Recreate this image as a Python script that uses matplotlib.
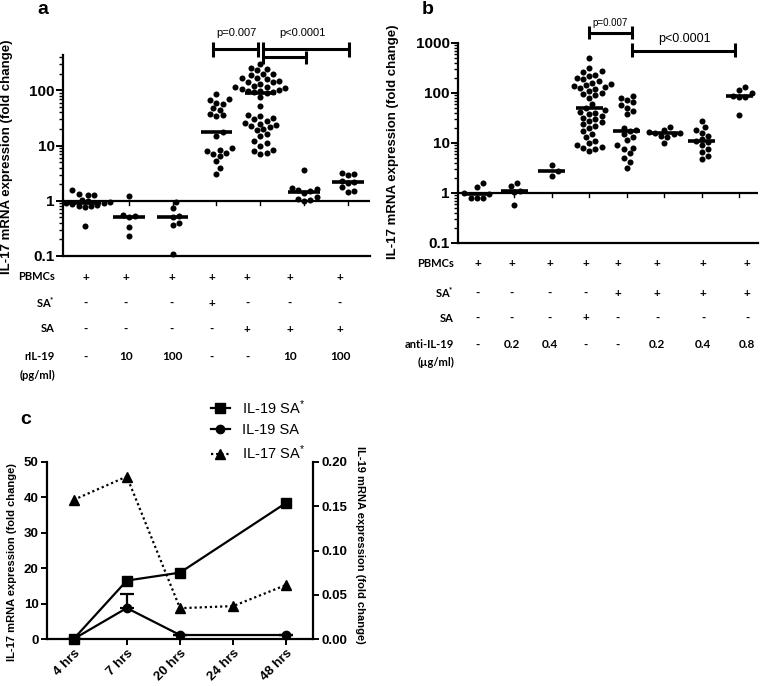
import numpy as np
import matplotlib
matplotlib.use("Agg")
import matplotlib.pyplot as plt
from matplotlib.ticker import FixedLocator, FixedFormatter, LogLocator, NullFormatter

plt.rcParams['font.family'] = ['Liberation Sans', 'DejaVu Sans']
plt.rcParams['mathtext.default'] = 'regular'

# ---------------- data: panel a ----------------
a_pbmc = [1.6, 1.35, 1.3, 1.3, 1.05, 1.0, 0.95, 0.92, 0.9, 0.88, 0.85, 0.82, 0.8, 0.78, 0.35]
a_ril19_10 = [1.2, 0.55, 0.52, 0.5, 0.34, 0.23]
a_ril19_100 = [0.95, 0.75, 0.52, 0.5, 0.4, 0.36, 0.11]
a_sa_star = [85, 70, 68, 60, 58, 48, 45, 38, 36, 35, 18, 15, 9, 8.5, 8, 7.5, 7, 6.5, 5.2, 4, 3.1]
a_sa = [300, 260, 250, 240, 200, 195, 190, 170, 165, 160, 150, 145, 140, 130, 120, 118, 115,
        110, 105, 100, 98, 96, 95, 92, 90, 75, 52, 36, 34, 32, 30, 28, 26, 25, 24, 23, 22, 20,
        19, 16, 15, 12, 11, 10, 8.5, 8, 7.5, 7.2]
a_sa_ril19_10 = [3.6, 1.7, 1.65, 1.6, 1.5, 1.4, 1.15, 1.1, 1.05, 1.0]
a_sa_ril19_100 = [3.2, 3.1, 2.9, 2.3, 2.2, 2.1, 1.75, 1.5, 1.45]
a_groups = [a_pbmc, a_ril19_10, a_ril19_100, a_sa_star, a_sa, a_sa_ril19_10, a_sa_ril19_100]

a_row_labels = ["PBMCs", "SA$^{*}$", "SA", "rIL-19"]
a_pbmcs_row = ["+", "+", "+", "+", "+", "+", "+"]
a_sastar_row = ["-", "-", "-", "+", "-", "-", "-"]
a_sa_row = ["-", "-", "-", "-", "+", "+", "+"]
a_ril19_row = ["-", "10", "100", "-", "-", "10", "100"]

# ---------------- data: panel b ----------------
b_pbmc = [1.55, 1.3, 1.0, 0.95, 0.8, 0.78, 0.8]
b_anti02 = [1.55, 1.35, 1.1, 1.05, 0.58]
b_anti04 = [3.7, 2.8, 2.2]
b_sa = [510, 310, 270, 260, 230, 220, 200, 190, 170, 160, 150, 145, 140, 130, 125, 120, 110,
        100, 95, 90, 80, 60, 50, 45, 42, 40, 38, 35, 32, 30, 28, 26, 24, 22, 20, 17, 15, 13,
        11, 10, 9, 8.5, 8, 7.5, 7]
b_sa_star = [88, 80, 72, 65, 57, 51, 44, 38, 20, 18, 17, 15, 13, 11.5, 9, 8, 7.5, 6.2, 4.9, 4.1, 3.2]
b_sastar_anti02 = [21, 18, 16.5, 16, 15.5, 15, 14, 13, 10]
b_sastar_anti04 = [27, 21, 18, 16, 14, 12, 11, 10.5, 9, 7.5, 6.5, 5.5, 4.7]
b_sastar_anti08 = [132, 115, 100, 88, 84, 82, 37]
b_groups = [b_pbmc, b_anti02, b_anti04, b_sa, b_sa_star, b_sastar_anti02, b_sastar_anti04, b_sastar_anti08]

b_row_labels = ["PBMCs", "SA$^{*}$", "SA", "anti-IL-19"]
b_pbmcs_row = ["+"] * 8
b_sastar_row = ["-", "-", "-", "-", "+", "+", "+", "+"]
b_sa_row = ["-", "-", "-", "+", "-", "-", "-", "-"]
b_anti_row = ["-", "0.2", "0.4", "-", "-", "0.2", "0.4", "0.8"]

# ---------------- data: panel c ----------------
c_times = ["4 hrs", "7 hrs", "20 hrs", "24 hrs", "48 hrs"]
c_il19_sa_star = [0.0, 0.066, 0.075, np.nan, 0.154]
c_il19_sa = [0.0, 0.035, 0.0045, np.nan, 0.0045]
c_il19_sa_err = [0.0, 0.016, 0.0, np.nan, 0.0]
c_il17_sa_star = [39.3, 45.9, 8.7, 9.3, 15.3]

W, H = 760, 686
fig = plt.figure(figsize=(W / 100, H / 100), dpi=100)


def fx(px):
    return px / W


def fy(py):
    return 1 - py / H


def swarm(vals, ppd, ppu, d=6.2):
    vals = np.asarray(vals, float)
    ys = ppd * np.log10(vals)
    order = np.argsort(vals)
    placed = []
    offs = np.zeros(len(vals))
    for i in order:
        y = ys[i]
        cand = 0.0
        for k in range(0, 60):
            cand = ((k + 1) // 2) * (d / 2) * (1 if k % 2 == 1 else -1)
            if all((cand - px) ** 2 + (y - py) ** 2 >= d * d for px, py in placed):
                break
        placed.append((cand, y))
        offs[i] = cand
    return offs / ppu


def style_log_axis(ax, ymin, ymax, majors, labels):
    ax.set_yscale('log')
    ax.set_ylim(ymin, ymax)
    for s in ['top', 'right']:
        ax.spines[s].set_visible(False)
    for s in ['left', 'bottom']:
        ax.spines[s].set_linewidth(1.6)
    ax.set_xticks([])
    ax.yaxis.set_major_locator(FixedLocator(majors))
    ax.yaxis.set_major_formatter(FixedFormatter(labels))
    ax.yaxis.set_minor_locator(LogLocator(base=10, subs=np.arange(2, 10)))
    ax.yaxis.set_minor_formatter(NullFormatter())
    ax.tick_params(axis='y', which='major', length=5, width=1.4, labelsize=11, pad=1)
    ax.tick_params(axis='y', which='minor', length=3, width=1.0)
    for t in ax.get_yticklabels():
        t.set_fontweight('bold')
    ax.axhline(1, color='black', lw=1.6, zorder=2)
    ax.patch.set_alpha(0)


def draw_groups(ax, groups, ppd, ppu, tick_frac):
    for i, g in enumerate(groups):
        offs = swarm(g, ppd, ppu)
        ax.scatter(i + offs, g, s=19, color='black', zorder=3, linewidths=0, clip_on=False)
        med = np.median(g)
        ax.plot([i - 0.36, i + 0.36], [med, med], color='black', lw=2.6, zorder=4,
                solid_capstyle='butt')
        ax.plot([i, i], [1, 10 ** (-tick_frac)], color='black', lw=1.0, zorder=2)


def bracket(ax, x0, x1, y, c0, c1, c2, c3):
    tr = ax.get_xaxis_transform()
    kw = dict(color='black', lw=2.2, transform=tr, clip_on=False, solid_capstyle='butt')
    ax.plot([x0, x1], [y, y], **kw)
    ax.plot([x0, x0], [c0, c1], **kw)
    ax.plot([x1, x1], [c2, c3], **kw)


# ================= panel a =================
a_left, a_right, a_top, a_bot = 63, 370, 55, 256
ax_a = fig.add_axes([fx(a_left), fy(a_bot), fx(a_right - a_left), (a_bot - a_top) / H])
style_log_axis(ax_a, 0.1, 440, [0.1, 1, 10, 100], ["0.1", "1", "10", "100"])
ax_a.set_xlim(-0.5, 6.5)
draw_groups(ax_a, a_groups, 55.5, 43.7, 4 / 55.5)


def af(py):
    return (a_bot - py) / (a_bot - a_top)


bracket(ax_a, 2.93, 3.95, af(49), af(42), af(57), af(42), af(57))
bracket(ax_a, 4.07, 6.02, af(49), af(42), af(64), af(42), af(57))
bracket(ax_a, 4.07, 5.03, af(57), af(57), af(57), af(51), af(64))
ax_a.text(3.45, af(33), "p=0.007", transform=ax_a.get_xaxis_transform(), ha='center',
          va='center', fontsize=8)
ax_a.text(4.95, af(33), "p<0.0001", transform=ax_a.get_xaxis_transform(), ha='center',
          va='center', fontsize=8)

fig.text(fx(43), fy(9), "a", fontsize=14, fontweight='bold', ha='center', va='center')
fig.text(fx(7), fy(157), "IL-17 mRNA expression (fold change)", rotation=90, ha='center',
         va='center', fontsize=9.5, fontweight='bold')

# table a
a_cols_px = [86, 126, 172, 212, 247, 290, 340]
a_rows_py = [277, 303, 329, 357]
tbl_font = ['Lato', 'DejaVu Sans']
for lab, py in zip(a_row_labels, a_rows_py):
    fig.text(fx(55), fy(py), lab, ha='right', va='center', fontsize=8, fontweight='bold',
             family=tbl_font)
fig.text(fx(55), fy(375), "(pg/ml)", ha='right', va='center', fontsize=8, fontweight='bold',
         family=tbl_font)
for row, py in zip([a_pbmcs_row, a_sastar_row, a_sa_row, a_ril19_row], a_rows_py):
    for s, px in zip(row, a_cols_px):
        fig.text(fx(px), fy(py), s, ha='center', va='center', fontsize=8.5,
                 fontweight='bold', family=tbl_font)

# ================= panel b =================
b_left, b_right, b_top, b_bot = 458, 758, 43, 243
ax_b = fig.add_axes([fx(b_left), fy(b_bot), fx(b_right - b_left), (b_bot - b_top) / H])
style_log_axis(ax_b, 0.1, 1000, [0.1, 1, 10, 100, 1000], ["0.1", "1", "10", "100", "1000"])
ax_b.set_xlim(-0.5, 7.5)
draw_groups(ax_b, b_groups, 50.0, 37.5, 4 / 50.0)


def bf(py):
    return (b_bot - py) / (b_bot - b_top)


bracket(ax_b, 3.0, 4.13, bf(33), bf(26), bf(39), bf(26), bf(39))
bracket(ax_b, 4.13, 6.88, bf(51), bf(43), bf(57), bf(43), bf(57))
ax_b.text(3.55, bf(23), "p=0.007", transform=ax_b.get_xaxis_transform(), ha='center',
          va='center', fontsize=7)
ax_b.text(5.55, bf(39), "p<0.0001", transform=ax_b.get_xaxis_transform(), ha='center',
          va='center', fontsize=9)

fig.text(fx(428), fy(9), "b", fontsize=14, fontweight='bold', ha='center', va='center')
fig.text(fx(393), fy(142), "IL-17 mRNA expression (fold change)", rotation=90, ha='center',
         va='center', fontsize=9.5, fontweight='bold')

b_cols_px = [478, 512, 550, 586, 618, 657, 703, 747]
b_rows_py = [263, 293, 318, 345]
for lab, py in zip(b_row_labels, b_rows_py):
    fig.text(fx(454), fy(py), lab, ha='right', va='center', fontsize=8, fontweight='bold',
             family=tbl_font)
fig.text(fx(454), fy(362), "(µg/ml)", ha='right', va='center', fontsize=8, fontweight='bold',
         family=tbl_font)
for row, py in zip([b_pbmcs_row, b_sastar_row, b_sa_row, b_anti_row], b_rows_py):
    for s, px in zip(row, b_cols_px):
        fig.text(fx(px), fy(py), s, ha='center', va='center', fontsize=8.5,
                 fontweight='bold', family=tbl_font)

# ================= panel c =================
c_left, c_right, c_top, c_bot = 47, 313, 462, 639
ax_c = fig.add_axes([fx(c_left), fy(c_bot), fx(c_right - c_left), (c_bot - c_top) / H])
ax_c2 = ax_c.twinx()
x = np.arange(len(c_times))
ax_c.set_xlim(-0.5, 4.5)
ax_c.set_ylim(0, 50)
ax_c2.set_ylim(0, 0.2)
ax_c.set_yticks([0, 10, 20, 30, 40, 50])
ax_c2.set_yticks([0, 0.05, 0.10, 0.15, 0.20])
ax_c2.set_yticklabels(["0.00", "0.05", "0.10", "0.15", "0.20"])
ax_c.set_xticks(x)
ax_c.set_xticklabels(c_times, rotation=45, ha='right', rotation_mode='anchor')
ax_c.spines['top'].set_visible(False)
ax_c.spines['right'].set_visible(False)
ax_c2.spines['top'].set_visible(False)
ax_c2.spines['left'].set_visible(False)
ax_c2.spines['bottom'].set_visible(False)
for s in ['left', 'bottom']:
    ax_c.spines[s].set_linewidth(1.6)
ax_c2.spines['right'].set_linewidth(1.6)
ax_c.tick_params(length=4, width=1.4, labelsize=9.5, pad=2)
ax_c2.tick_params(length=4, width=1.4, labelsize=9.5, pad=2)
for t in ax_c.get_xticklabels() + ax_c.get_yticklabels() + ax_c2.get_yticklabels():
    t.set_fontweight('bold')

m1 = ~np.isnan(np.array(c_il19_sa_star))
l1, = ax_c2.plot(x[m1], np.array(c_il19_sa_star)[m1], color='black', lw=1.6, marker='s',
                 markersize=6.5, clip_on=False, zorder=4)
m2 = ~np.isnan(np.array(c_il19_sa))
il19sa = np.array(c_il19_sa)[m2]
err = np.array(c_il19_sa_err)[m2]
ax_c2.errorbar(x[m2], il19sa, yerr=[np.zeros_like(err), err], fmt='none', ecolor='black',
               elinewidth=1.6, capsize=5, capthick=1.6, zorder=3)
l2, = ax_c2.plot(x[m2], il19sa, color='black', lw=1.6, marker='o', markersize=6,
                 clip_on=False, zorder=4)
l3, = ax_c.plot(x, c_il17_sa_star, color='black', lw=1.6, ls=(0, (1, 1.3)), marker='^',
                markersize=6.5, clip_on=False, zorder=4)

fig.legend([l1, l2, l3], ["IL-19 SA$^{*}$", "IL-19 SA", "IL-17 SA$^{*}$"], loc='upper left',
           bbox_to_anchor=(fx(211), fy(398)), frameon=False, fontsize=10.5,
           handlelength=1.3, handletextpad=0.8, labelspacing=0.45, borderpad=0,
           borderaxespad=0)

fig.text(fx(26), fy(419), "c", fontsize=14, fontweight='bold', ha='center', va='center')
fig.text(fx(12), fy(562), "IL-17 mRNA expression (fold change)", rotation=90, ha='center',
         va='center', fontsize=8, fontweight='bold')
fig.text(fx(360), fy(545), "IL-19 mRNA expression (fold change)", rotation=-90, ha='center',
         va='center', fontsize=8, fontweight='bold')

fig.savefig("out.png", dpi=100)
